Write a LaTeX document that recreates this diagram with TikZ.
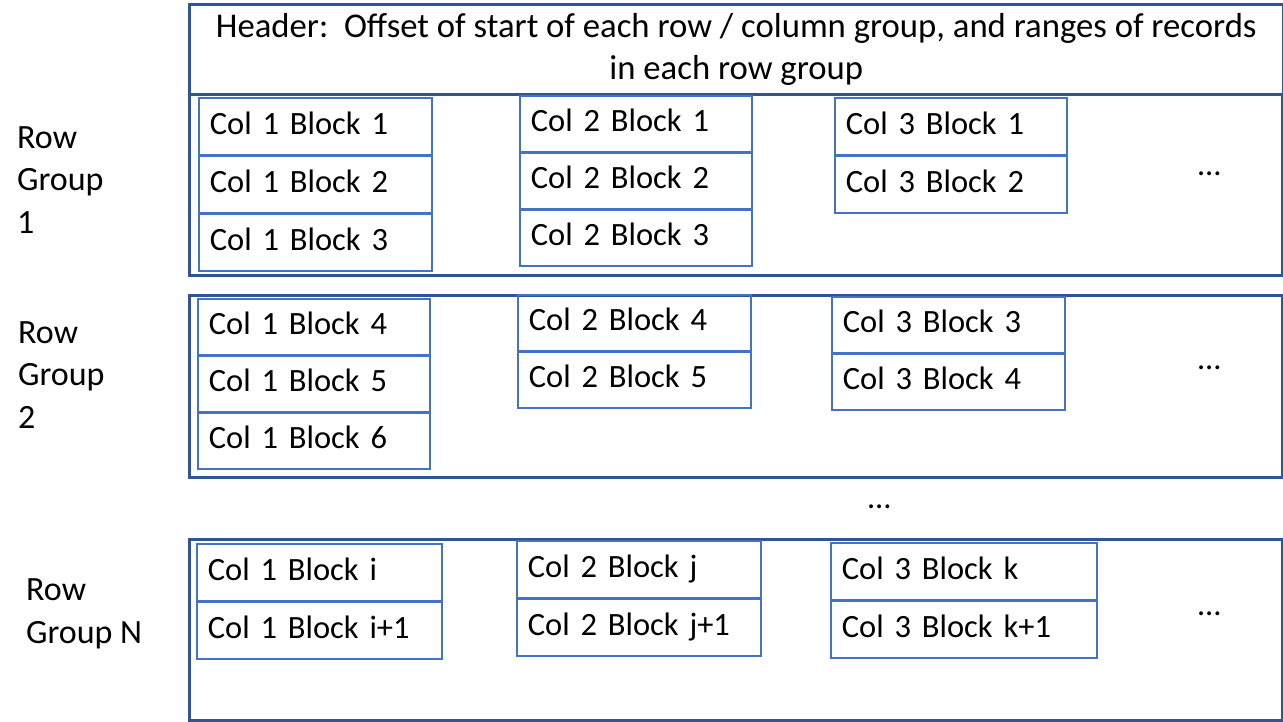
\documentclass[tikz,border=0pt]{standalone}
\usepackage{fontspec}
\setmainfont{Carlito}
\definecolor{outerblue}{HTML}{2F5597}
\definecolor{blockblue}{HTML}{4472C4}
\newcommand\blocktext{\fontsize{32.5}{42}\selectfont}
\newcommand\headtext{\fontsize{34.7}{42}\selectfont}
\newcommand\labeltext{\fontsize{34}{42.5}\selectfont}
\begin{document}
\begin{tikzpicture}[x=1pt,y=-1pt,
  grp/.style={draw=outerblue, line width=2.5pt, anchor=north west, inner sep=0pt},
  blockbox/.style={draw=blockblue, line width=1.8pt, anchor=north west, inner xsep=11pt, inner ysep=0pt,
    minimum height=57pt, text width=#1, align=left, text height=21pt, text depth=5pt, font=\blocktext},
  lbl/.style={anchor=base west, align=left, inner sep=0pt, font=\labeltext},
  dots/.style={anchor=base west, inner sep=0pt, font=\blocktext}
]
\useasboundingbox (0,0) rectangle (1283,721);
\fill[white] (0,0) rectangle (1283,721);

% header and row group frames
\node[grp, minimum width=1094pt, minimum height=90pt, align=center, font=\headtext] (hdr) at (188,3)
  {Header:\ \ Offset of start of each row / column group, and ranges of records\\in each row group};
\node[grp, minimum width=1093pt, minimum height=181pt] (rg1) at (188,93) {};
\node[grp, minimum width=1093pt, minimum height=182pt] (rg2) at (188,294) {};
\node[grp, minimum width=1093pt, minimum height=181pt] (rgn) at (188,538) {};

% row group labels (base anchor = last line)
\node[lbl] (l1) at (17,233) {Row\\Group\\1};
\node[lbl] (l2) at (18,428) {Row\\Group\\2};
\node[lbl] (ln) at (26,643) {Row\\Group N};

% row group 1
\node[blockbox=211pt] (a1) at (198,97) {Col 1 Block 1};
\node[blockbox=211pt] (a2) at (198,155) {Col 1 Block 2};
\node[blockbox=211pt] (a3) at (198,213) {Col 1 Block 3};
\node[blockbox=210pt, minimum height=56pt] (b1) at (519,95) {Col 2 Block 1};
\node[blockbox=210pt, minimum height=56pt] (b2) at (519,152) {Col 2 Block 2};
\node[blockbox=210pt, minimum height=56pt] (b3) at (519,209) {Col 2 Block 3};
\node[blockbox=210pt] (c1) at (834,97) {Col 3 Block 1};
\node[blockbox=210pt] (c2) at (834,155) {Col 3 Block 2};

% row group 2
\node[blockbox=210pt, minimum height=56pt] (d1) at (197,298) {Col 1 Block 4};
\node[blockbox=210pt, minimum height=56pt] (d2) at (197,355) {Col 1 Block 5};
\node[blockbox=210pt, minimum height=56pt] (d3) at (197,412) {Col 1 Block 6};
\node[blockbox=211pt, minimum height=56pt] (e1) at (517,294) {Col 2 Block 4};
\node[blockbox=211pt, minimum height=56pt] (e2) at (517,351) {Col 2 Block 5};
\node[blockbox=211pt, minimum height=56pt] (f1) at (831,296) {Col 3 Block 3};
\node[blockbox=211pt, minimum height=56pt] (f2) at (831,353) {Col 3 Block 4};

% row group N
\node[blockbox=223pt] (g1) at (196,543) {Col 1 Block i};
\node[blockbox=223pt] (g2) at (196,601) {Col 1 Block i+1};
\node[blockbox=222pt] (h1) at (516,540) {Col 2 Block j};
\node[blockbox=222pt] (h2) at (516,598) {Col 2 Block j+1};
\node[blockbox=244pt] (i1) at (830,542) {Col 3 Block k};
\node[blockbox=244pt] (i2) at (830,600) {Col 3 Block k+1};

% ellipses
\node[dots] (e1dots) at (1198,175) {…};
\node[dots] (e2dots) at (1198,369) {…};
\node[dots] (e3dots) at (868,508) {…};
\node[dots] (e4dots) at (1198,615) {…};
\end{tikzpicture}
\end{document}
